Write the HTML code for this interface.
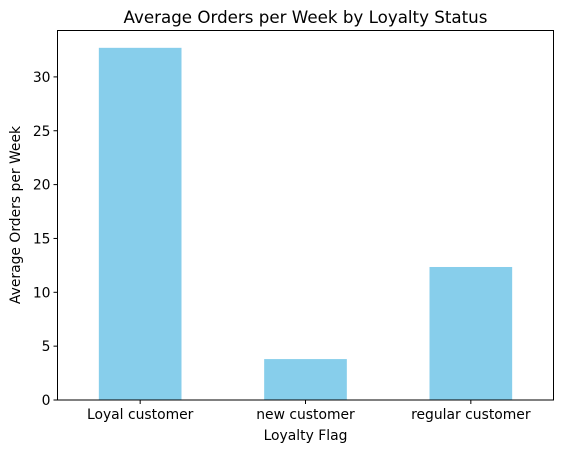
<!DOCTYPE html>
<html><head><meta charset="utf-8"><style>
html,body{margin:0;padding:0;background:#fff;}
svg{display:block;font-family:"DejaVu Sans","Liberation Sans",sans-serif;}
</style></head><body>
<svg id="chart" width="563" height="453" viewBox="0 0 563 453">
<text x="305.5" y="23" text-anchor="middle" font-size="16.7" fill="#000">Average Orders per Week by Loyalty Status</text>
<g id="bars"></g>
<g id="yticks"></g>
<g id="xticks"></g>
<rect x="57.5" y="30.5" width="496" height="369.5" fill="none" stroke="#000" stroke-width="1"/>
<text x="305.5" y="440" text-anchor="middle" font-size="13.9">Loyalty Flag</text>
<text transform="translate(20,215) rotate(-90)" text-anchor="middle" font-size="13.9">Average Orders per Week</text>
</svg>
<script>
const categories = ["Loyal customer", "new customer", "regular customer"];
const values = [32.7, 3.8, 12.35];
const yTicks = [0, 5, 10, 15, 20, 25, 30];

const NS = "http://www.w3.org/2000/svg";
const left = 57.5, right = 553.5, bottom = 400, unit = 10.77;
const step = (right - left) / categories.length;
function xCenter(i){ return left + step * (i + 0.5); }
function yPos(v){ return bottom - v * unit; }

const bars = document.getElementById('bars');
const xt = document.getElementById('xticks');
categories.forEach((c, i) => {
  const r = document.createElementNS(NS, 'rect');
  const w = step * 0.5;
  r.setAttribute('x', xCenter(i) - w / 2);
  r.setAttribute('y', yPos(values[i]));
  r.setAttribute('width', w);
  r.setAttribute('height', bottom - yPos(values[i]));
  r.setAttribute('fill', '#87ceeb');
  
  
  bars.appendChild(r);
  const l = document.createElementNS(NS, 'line');
  l.setAttribute('x1', xCenter(i)); l.setAttribute('x2', xCenter(i));
  l.setAttribute('y1', bottom); l.setAttribute('y2', bottom + 4);
  l.setAttribute('stroke', '#000');
  
  
  xt.appendChild(l);
  const t = document.createElementNS(NS, 'text');
  t.setAttribute('x', xCenter(i)); t.setAttribute('y', bottom + 19);
  t.setAttribute('text-anchor', 'middle'); t.setAttribute('font-size', '13.9');
  t.textContent = c;
  
  
  xt.appendChild(t);
});
const yt = document.getElementById('yticks');
yTicks.forEach(v => {
  const l = document.createElementNS(NS, 'line');
  l.setAttribute('x1', left - 4); l.setAttribute('x2', left);
  l.setAttribute('y1', yPos(v)); l.setAttribute('y2', yPos(v));
  l.setAttribute('stroke', '#000');
  
  
  yt.appendChild(l);
  const t = document.createElementNS(NS, 'text');
  t.setAttribute('x', left - 7); t.setAttribute('y', yPos(v) + 5);
  t.setAttribute('text-anchor', 'end'); t.setAttribute('font-size', '13.9');
  t.textContent = v;
  
  
  yt.appendChild(t);
});
</script>
</body></html>
